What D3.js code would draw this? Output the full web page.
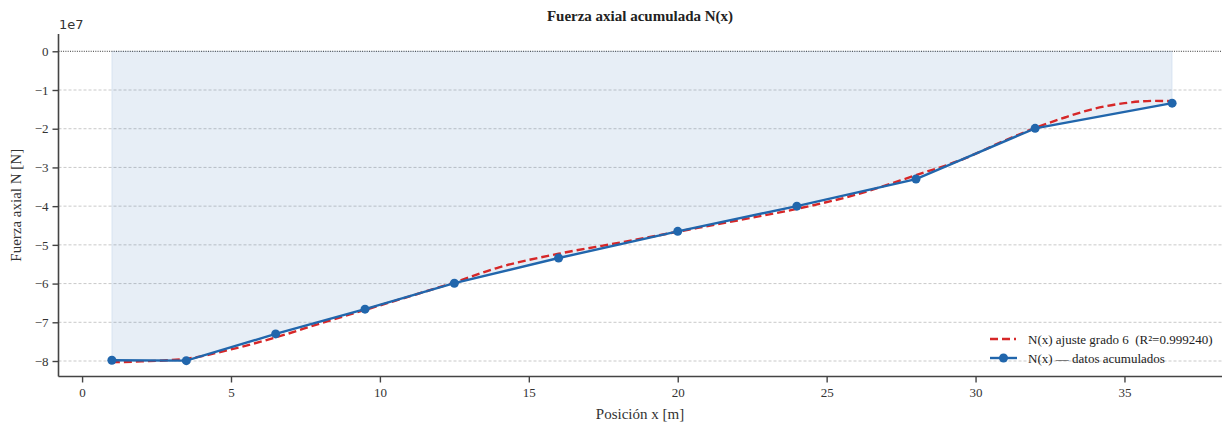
<!DOCTYPE html>
<html>
<head>
<meta charset="utf-8">
<script src="https://cdn.jsdelivr.net/npm/d3@7"></script>
<style>
  body { margin: 0; background: #fff; }
  svg { display: block; font-family: "Liberation Serif", "DejaVu Serif", serif; }
</style>
</head>
<body>
<div id="chart"></div>
<script>
// datos acumulados (x en m, N en 1e7 N)
const posX = [1, 3.5, 6.5, 9.5, 12.5, 16, 20, 24, 28, 32, 36.6];
const axialN = [-7.98, -7.99, -7.30, -6.66, -5.99, -5.34, -4.65, -4.00, -3.30, -1.99, -1.34];

// curva del ajuste grado 6
const fitX = [1, 2, 3.5, 5, 6.5, 8, 9.5, 11, 12.5, 14, 16, 18, 20, 22, 24, 26, 28, 29.5, 31, 32, 33, 34, 35, 36, 36.6];
const fitN = [-8.03, -8.01, -7.94, -7.70, -7.39, -7.03, -6.68, -6.33, -5.97, -5.58, -5.23, -4.95, -4.66, -4.37, -4.07, -3.70, -3.20, -2.81, -2.30, -1.98, -1.71, -1.48, -1.34, -1.28, -1.29];

const xTicks = [0, 5, 10, 15, 20, 25, 30, 35];
const yTicks = [0, -1, -2, -3, -4, -5, -6, -7, -8];

const width = 1222;
const height = 429;

const svg = d3.select('#chart')
  .append('svg')
  .attr('width', width)
  .attr('height', height);

const x = d3.scaleLinear().domain([-0.775, 38.275]).range([59, 1222]);
const y = d3.scaleLinear().domain([-8.4, 0.4]).range([376.5, 35.8]);

const left = 58.5;
const bottom = 376.5;
const axisColor = '#444';

// grid
svg.append('g')
  .selectAll('line')
  .data(yTicks.filter((d) => d !== 0))
  .enter()
  .append('line')
  .attr('x1', left)
  .attr('x2', width)
  .attr('y1', (d) => y(d))
  .attr('y2', (d) => y(d))
  .attr('stroke', '#bbb')
  .attr('stroke-width', 0.8)
  .attr('stroke-dasharray', '3,2');

// area between 0 and N(x)
const area = d3.area()
  .x((d, i) => x(posX[i]))
  .y0(y(0))
  .y1((d) => y(d));

svg.append('path')
  .datum(axialN)
  .attr('d', area)
  .attr('fill', '#2166ac')
  .attr('fill-opacity', 0.11)
  .attr('stroke', '#2166ac')
  .attr('stroke-opacity', 0.1)
  .attr('stroke-width', 1);

// linea cero
svg.append('line')
  .attr('x1', left)
  .attr('x2', width)
  .attr('y1', y(0))
  .attr('y2', y(0))
  .attr('stroke', '#000')
  .attr('stroke-width', 0.8)
  .attr('stroke-dasharray', '1,1.3');

// fit
const fitLine = d3.line()
  .x((d, i) => x(fitX[i]))
  .y((d) => y(d))
  .curve(d3.curveMonotoneX);

svg.append('path')
  .datum(fitN)
  .attr('d', fitLine)
  .attr('fill', 'none')
  .attr('stroke', '#d62728')
  .attr('stroke-width', 2.4)
  .attr('stroke-dasharray', '8,4');

// datos
const dataLine = d3.line()
  .x((d, i) => x(posX[i]))
  .y((d) => y(d));

const blue = '#2166ac';

svg.append('path')
  .datum(axialN)
  .attr('d', dataLine)
  .attr('fill', 'none')
  .attr('stroke', blue)
  .attr('stroke-width', 2.4);

svg.append('g')
  .selectAll('circle')
  .data(axialN)
  .enter()
  .append('circle')
  .attr('cx', (d, i) => x(posX[i]))
  .attr('cy', (d) => y(d))
  .attr('r', 4.5)
  .attr('fill', blue);

// ejes
const xAxis = svg.append('g')
  .attr('transform', `translate(0,${bottom})`)
  .call(d3.axisBottom(x).tickValues(xTicks).tickSize(6).tickPadding(5));

const yAxis = svg.append('g')
  .attr('transform', `translate(${left},0)`)
  .call(d3.axisLeft(y).tickValues(yTicks).tickSize(6).tickPadding(4)
    .tickFormat((d) => (d < 0 ? '\u2212' + Math.abs(d) : d)));

[xAxis, yAxis].forEach((g) => {
  g.select('.domain').attr('stroke', axisColor).attr('stroke-width', 1.6);
  g.selectAll('.tick line').attr('stroke', axisColor).attr('stroke-width', 1.4);
  g.selectAll('.tick text')
    .attr('fill', '#333')
    .style('font-family', '"Liberation Serif", serif')
    .style('font-size', '13px');
});
xAxis.select('.domain').attr('d', `M${left},0H${width}`);
yAxis.select('.domain').attr('d', `M0,${bottom}V34`);

svg.append('text')
  .attr('x', 59)
  .attr('y', 29)
  .attr('fill', '#333')
  .style('font-family', '"DejaVu Sans", sans-serif')
  .style('font-size', '13px')
  .text('1e7');

// titulos
svg.append('text')
  .attr('x', 640)
  .attr('y', 21)
  .attr('text-anchor', 'middle')
  .attr('fill', '#222')
  .style('font-weight', 'bold')
  .style('font-size', '15px')
  .text('Fuerza axial acumulada N(x)');

svg.append('text')
  .attr('x', 640)
  .attr('y', 419)
  .attr('text-anchor', 'middle')
  .attr('fill', '#333')
  .style('font-size', '15px')
  .text('Posición x [m]');

svg.append('text')
  .attr('transform', `translate(21,${(bottom + 34) / 2}) rotate(-90)`)
  .attr('text-anchor', 'middle')
  .attr('fill', '#333')
  .style('font-size', '15px')
  .text('Fuerza axial N [N]');

// leyenda
const legend = svg.append('g').attr('transform', 'translate(990,339)');

legend.append('line')
  .attr('x1', 0).attr('x2', 26).attr('y1', 0).attr('y2', 0)
  .attr('stroke', '#d62728')
  .attr('stroke-width', 2.4)
  .attr('stroke-dasharray', '8,4');

legend.append('text')
  .attr('x', 38).attr('y', 4.5)
  .attr('fill', '#222')
  .style('font-size', '13px')
  .style('white-space', 'pre')
  .text('N(x) ajuste grado 6  (R²=0.999240)');

legend.append('line')
  .attr('x1', 0).attr('x2', 27).attr('y1', 19).attr('y2', 19)
  .attr('stroke', blue)
  .attr('stroke-width', 2.4);

legend.append('circle')
  .attr('cx', 13.5).attr('cy', 19).attr('r', 4.5)
  .attr('fill', blue);

legend.append('text')
  .attr('x', 38).attr('y', 23.5)
  .attr('fill', '#222')
  .style('font-size', '13px')
  .text('N(x) — datos acumulados');
</script>
</body>
</html>
